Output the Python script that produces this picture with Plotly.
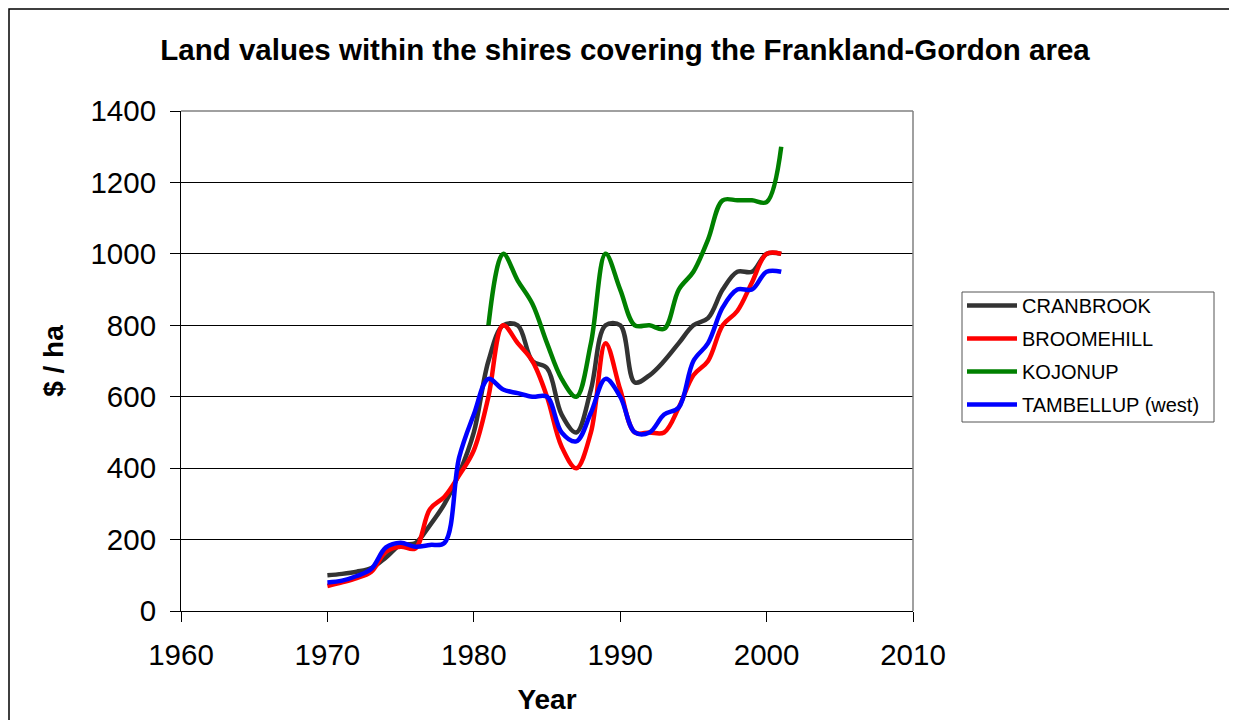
import plotly.graph_objects as go

years = list(range(1970, 2002))
cranbrook = [100, 104, 110, 120, 150, 185, 190, 240, 300, 385,
             500, 700, 800, 800, 700, 680, 550, 500, 620, 800,
             800, 640, 660, 700, 750, 800, 820, 900, 950, 950,
             1000, 1000]
broomehill = [70, 80, 92, 110, 166, 180, 175, 285, 320, 380,
              450, 600, 800, 750, 700, 600, 460, 400, 500, 750,
              620, 500, 500, 500, 570, 660, 700, 800, 840, 920,
              1000, 1000]
kojonup = [None] * 11 + [800, 1000, 925, 860, 750, 650, 600, 750, 1000,
                         900, 800, 800, 790, 900, 950, 1040, 1150, 1150, 1150,
                         1145, 1300]
tambellup = [80, 85, 98, 118, 178, 191, 180, 185, 191, 430,
             550, 650, 620, 610, 600, 600, 500, 475, 555, 650,
             600, 500, 500, 550, 570, 700, 750, 850, 900, 900,
             950, 950]

series = [
    ("CRANBROOK", cranbrook, "#333333"),
    ("BROOMEHILL", broomehill, "#FF0000"),
    ("KOJONUP", kojonup, "#008000"),
    ("TAMBELLUP (west)", tambellup, "#0000FF"),
]

FONT = "Liberation Sans, Arial, sans-serif"

fig = go.Figure()
for i, (name, vals, col) in enumerate(series):
    fig.add_trace(go.Scatter(
        x=years, y=vals, name=name, mode="lines",
        line=dict(color=col, width=4.5, shape="spline", smoothing=1.0),
        connectgaps=False, legendgroup=f"g{i}",
    ))

W, H = 1237, 720
OFF = 8  # page body margin
# target plot area on screen: x 181..913, y 111..611
L = 181 - OFF
T = 111 - OFF
R = W - (913 - OFF)
B = H - (611 - OFF)
pw, ph = 913 - 181, 611 - 111


def px_x(px):
    return (px - 181) / pw


def px_y(py):
    return (611 - py) / ph


fig.update_layout(
    width=W, height=H,
    margin=dict(l=L, r=R, t=T, b=B, autoexpand=False),
    paper_bgcolor="white", plot_bgcolor="white",
    font=dict(family=FONT, color="black"),
    title=dict(
        text="<b>Land values within the shires covering the Frankland-Gordon area</b>",
        x=(625 - OFF) / W, xanchor="center", xref="container",
        y=1 - (50 - OFF) / H, yanchor="middle", yref="container",
        font=dict(size=29.5, family=FONT, color="black"),
    ),
    showlegend=True,
    legend=dict(
        x=px_x(962), y=px_y(286), xanchor="left", yanchor="top",
        borderwidth=0, bgcolor="rgba(0,0,0,0)",
        font=dict(size=20, family=FONT, color="black"),
        itemwidth=50, tracegroupgap=4,
    ),
)

fig.update_xaxes(
    range=[1960, 2010], dtick=10, tick0=1960,
    showgrid=False, zeroline=False,
    showline=True, linecolor="black", linewidth=1,
    ticks="outside", ticklen=10, tickcolor="black", tickwidth=1,
    tickfont=dict(size=29.5, family=FONT, color="black"),
    ticklabelstandoff=8,
    title=dict(text="<b>Year</b>", font=dict(size=28, family=FONT, color="black"), standoff=18),
)
fig.update_yaxes(
    range=[0, 1400], dtick=200, tick0=0,
    showgrid=True, gridcolor="black", gridwidth=1,
    zeroline=False,
    showline=True, linecolor="black", linewidth=1,
    ticks="outside", ticklen=10, tickcolor="black", tickwidth=1,
    tickfont=dict(size=29.5, family=FONT, color="black"),
    ticklabelstandoff=8,
    title=dict(text="<b>$ / ha</b>", font=dict(size=28, family=FONT, color="black"), standoff=18),
)

# plot-area border (top and right, grey)
fig.add_shape(type="line", xref="paper", yref="paper", x0=0, x1=1, y0=1, y1=1,
              line=dict(color="#808080", width=1.5), layer="above")
fig.add_shape(type="line", xref="paper", yref="paper", x0=1, x1=1, y0=0, y1=1,
              line=dict(color="#808080", width=1.5), layer="above")
# legend frame
fig.add_shape(type="rect", xref="paper", yref="paper",
              x0=px_x(962), x1=px_x(1214), y0=px_y(292), y1=px_y(422),
              line=dict(color="#555555", width=1), layer="above")
# outer chart frame
fig.add_shape(type="rect", xref="paper", yref="paper",
              x0=px_x(9), x1=px_x(1250), y0=px_y(9), y1=px_y(735),
              line=dict(color="black", width=1.5), layer="above")

fig.write_html("out.html")
